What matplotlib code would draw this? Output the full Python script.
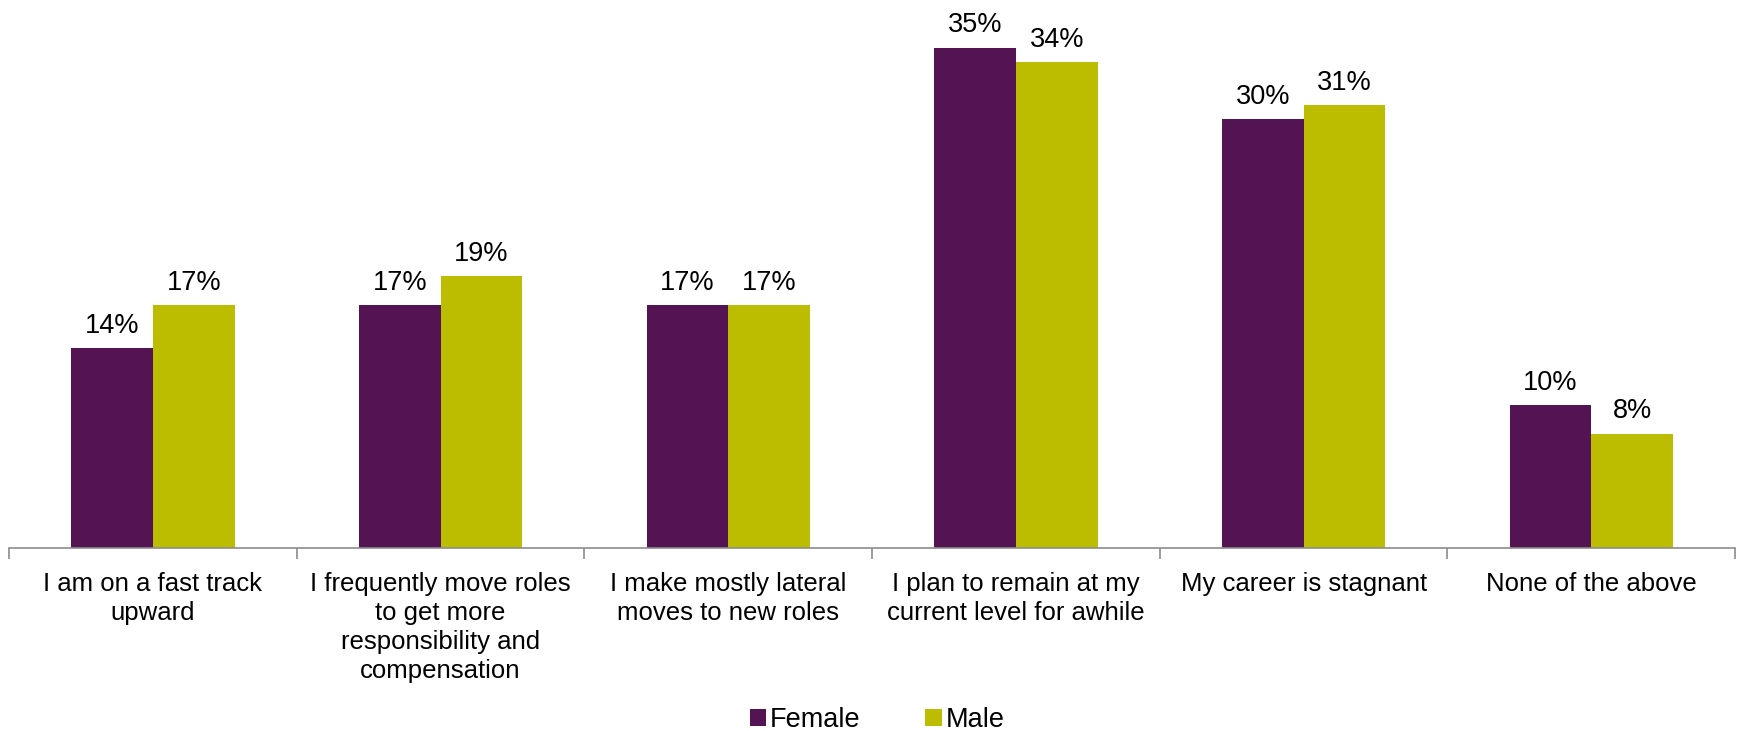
import numpy as np
from matplotlib import pyplot as plt
from matplotlib.ticker import FixedLocator

plt.rcParams['font.family'] = ['Liberation Sans', 'DejaVu Sans']

categories = ["I am on a fast track\nupward",
              "I frequently move roles\nto get more\nresponsibility and\ncompensation",
              "I make mostly lateral\nmoves to new roles",
              "I plan to remain at my\ncurrent level for awhile",
              "My career is stagnant",
              "None of the above"]
female = [14, 17, 17, 35, 30, 10]
male = [17, 19, 17, 34, 31, 8]

purple = '#541352'
olive = '#BCBC00'

fig = plt.figure(figsize=(17.37, 7.31), dpi=100)
ax = fig.add_axes([0.0052, 0.2503, 0.9937, 0.7237])

x = np.arange(len(categories))
w = 0.284
b1 = ax.bar(x - w / 2, female, w, color=purple, label='Female')
b2 = ax.bar(x + w / 2, male, w, color=olive, label='Male')

# percentage labels above each bar
for bars, vals in ((b1, female), (b2, male)):
    for bar, v in zip(bars, vals):
        ax.annotate(f"{v}%", (bar.get_x() + bar.get_width() / 2, v),
                    xytext=(0, 11), textcoords='offset points',
                    ha='center', va='baseline', fontsize=19.5,
                    annotation_clip=False)

ax.set_xlim(-0.5, len(categories) - 0.5)
ax.set_ylim(0, 37)
ax.set_yticks([])
for side in ('left', 'right', 'top'):
    ax.spines[side].set_visible(False)
ax.spines['bottom'].set_color('#8c8c8c')
ax.spines['bottom'].set_linewidth(1.2)

ax.set_xticks(x)
ax.set_xticklabels(categories, fontsize=18.5, linespacing=1.27)
ax.tick_params(axis='x', which='major', length=0, pad=17)
ax.xaxis.set_minor_locator(FixedLocator(np.arange(-0.5, len(categories), 1.0)))
ax.tick_params(axis='x', which='minor', length=8, width=1.2,
               color='#8c8c8c', direction='out')

fig.legend(handles=[b1, b2], labels=['Female', 'Male'], loc='lower center',
           bbox_to_anchor=(0.505, -0.036), ncol=2, frameon=False,
           fontsize=19.5, handlelength=0.6, handleheight=0.6,
           handletextpad=0.15, columnspacing=2.4)

fig.savefig('out.png', dpi=100)
